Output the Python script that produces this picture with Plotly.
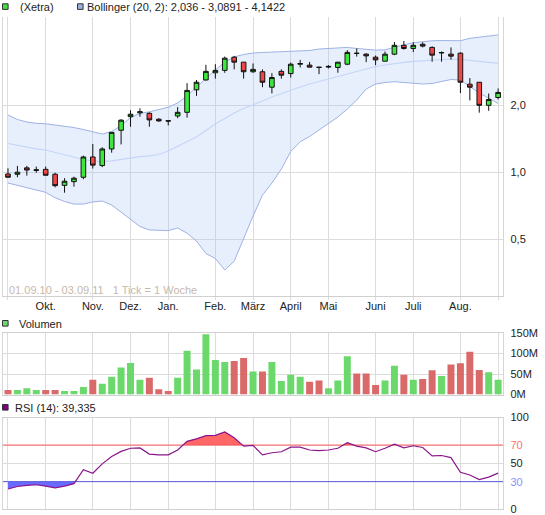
import pandas as pd
import plotly.graph_objects as go

W, H = 545, 515

# ---------------- data (weekly, Xetra) ----------------
week_start = "2010-08-30"
n_weeks = 53
dates = list(pd.date_range(week_start, periods=n_weeks, freq="7D"))

open_ = [0.983, 0.980, 1.047, 1.020, 1.031, 0.980, 0.874, 0.908, 0.950, 1.172,
         1.072, 1.273, 1.545, 1.778, 1.850, 1.841, 1.732, 1.706, 1.791, 1.860,
         2.347, 2.600, 2.800, 2.871, 3.290, 3.125, 2.830, 2.830, 2.412, 2.841,
         2.777, 3.060, 3.030, 2.968, 2.970, 2.958, 3.060, 3.430, 3.395, 3.290,
         3.157, 3.395, 3.720, 3.600, 3.760, 3.640, 3.440, 3.395, 3.430, 2.488,
         2.539, 2.000, 2.168]
high = [1.042, 1.069, 1.069, 1.061, 1.061, 0.996, 0.941, 0.956, 1.188, 1.340,
        1.296, 1.512, 1.732, 1.899, 1.939, 1.860, 1.750, 1.708, 1.963, 2.514,
        2.600, 3.040, 3.060, 3.311, 3.335, 3.125, 3.084, 2.900, 2.789, 2.900,
        3.112, 3.200, 3.134, 2.968, 3.030, 3.125, 3.540, 3.600, 3.430, 3.346,
        3.490, 3.850, 3.890, 3.840, 3.840, 3.680, 3.490, 3.640, 3.457, 2.650,
        2.539, 2.260, 2.380]
low = [0.950, 0.950, 0.966, 0.996, 0.970, 0.856, 0.810, 0.862, 0.931, 1.040,
       1.055, 1.225, 1.334, 1.602, 1.778, 1.602, 1.685, 1.625, 1.750, 1.760,
       2.204, 2.581, 2.636, 2.800, 2.900, 2.636, 2.800, 2.412, 2.261, 2.636,
       2.665, 2.958, 2.958, 2.760, 2.930, 2.800, 3.030, 3.311, 3.125, 3.030,
       3.157, 3.360, 3.560, 3.470, 3.640, 3.140, 3.140, 3.210, 2.270, 2.103,
       1.853, 1.890, 2.125]
close = [0.950, 1.001, 1.024, 1.026, 0.970, 0.871, 0.912, 0.941, 1.172, 1.077,
         1.273, 1.512, 1.715, 1.823, 1.870, 1.720, 1.702, 1.700, 1.860, 2.333,
         2.539, 2.841, 2.871, 3.257, 3.125, 2.830, 2.900, 2.539, 2.665, 2.731,
         3.060, 3.080, 2.968, 2.960, 2.990, 3.125, 3.457, 3.420, 3.335, 3.200,
         3.395, 3.720, 3.600, 3.720, 3.690, 3.360, 3.450, 3.325, 2.539, 2.412,
         2.000, 2.125, 2.285]

boll_upper = [1.809, 1.727, 1.683, 1.660, 1.652, 1.634, 1.614, 1.589, 1.557, 1.525,
              1.486, 1.525, 1.623, 1.760, 1.840, 1.870, 1.910, 1.960, 2.050, 2.203,
              2.416, 2.650, 2.886, 3.126, 3.300, 3.383, 3.436, 3.454, 3.464, 3.479,
              3.489, 3.507, 3.526, 3.580, 3.600, 3.620, 3.640, 3.600, 3.560, 3.540,
              3.550, 3.650, 3.740, 3.820, 3.870, 3.900, 3.910, 3.900, 3.900, 4.000,
              4.050, 4.100, 4.142]
boll_middle = [1.347, 1.322, 1.299, 1.275, 1.260, 1.227, 1.202, 1.172, 1.142, 1.124,
               1.116, 1.126, 1.144, 1.159, 1.175, 1.186, 1.202, 1.247, 1.306, 1.368,
               1.441, 1.541, 1.648, 1.745, 1.847, 1.935, 2.006, 2.091, 2.179, 2.260,
               2.343, 2.417, 2.493, 2.559, 2.625, 2.708, 2.779, 2.852, 2.927, 2.988,
               3.035, 3.082, 3.121, 3.153, 3.179, 3.196, 3.212, 3.219, 3.219, 3.186,
               3.146, 3.114, 3.089]
boll_lower = [0.895, 0.874, 0.859, 0.837, 0.813, 0.769, 0.739, 0.720, 0.720, 0.736,
              0.743, 0.713, 0.663, 0.620, 0.571, 0.551, 0.547, 0.547, 0.562, 0.533,
              0.491, 0.432, 0.410, 0.364, 0.399, 0.507, 0.636, 0.790, 0.895, 1.034,
              1.240, 1.372, 1.448, 1.549, 1.657, 1.772, 1.925, 2.113, 2.367, 2.493,
              2.532, 2.553, 2.532, 2.511, 2.493, 2.506, 2.559, 2.612, 2.598, 2.429,
              2.271, 2.157, 2.036]

volume_m = [11, 11, 15, 11, 11, 11, 8.5, 8.5, 18, 36,
            26, 43, 66, 77, 36, 41, 13, 8.5, 41, 107,
            61, 147, 84, 79, 82, 89, 56, 56, 79, 33,
            48, 43, 31, 34, 15, 34, 93, 51, 51, 23,
            34, 70, 48, 36, 38, 59, 45, 73, 76, 104,
            60, 54, 36]

rsi = [22, 24.7, 25.9, 26.6, 25.1, 23.2, 25.1, 27.8, 43, 39.2,
       49.4, 57.4, 63.1, 66.5, 66.9, 60.1, 59.3, 59.3, 64.6, 74.1,
       76.8, 80.2, 80.6, 84.4, 77.9, 68.8, 69.6, 59.3, 61.6, 62.7,
       67.7, 67.7, 64.6, 63.9, 64.6, 66.5, 72.6, 68.8, 66.9, 62.7,
       66.5, 71.0, 66.9, 69.2, 67.3, 58.2, 58.6, 56.3, 40.3, 37.3,
       32.3, 35, 39.3]

month_tick_dates = ["2010-09-27", "2010-11-01", "2010-11-29", "2010-12-27",
                    "2011-01-31", "2011-02-28", "2011-03-28", "2011-04-25",
                    "2011-05-30", "2011-06-27", "2011-08-01"]
month_labels = ["Okt.", "Nov.", "Dez.", "Jan.", "Feb.", "März", "April",
                "Mai", "Juni", "Juli", "Aug."]

price_ticks = [0.5, 1.0, 2.0]
price_tick_labels = ["0,5", "1,0", "2,0"]
vol_ticks = [0, 50e6, 100e6, 150e6]
vol_tick_labels = ["0M", "50M", "100M", "150M"]
rsi_ticks = [0, 30, 50, 70, 100]
rsi_tick_labels = ["0", '<span style="color:#8C8CFF">30</span>', "50",
                   '<span style="color:#FF7070">70</span>', "100"]

legend_main = "(Xetra)"
legend_boll = "Bollinger (20, 2): 2,036 - 3,0891 - 4,1422"
legend_vol = "Volumen"
legend_rsi = "RSI (14): 39,335"
period_note = "01.09.10 - 03.09.11\u00a0\u00a0\u00a01 Tick = 1 Woche"

# ---------------- styling ----------------
FONT = "Liberation Sans, Arial, sans-serif"
GRID = "#DCDCDC"
TXT = "#222222"
GREEN = "#3DE83D"
RED = "#F04646"
VGREEN = "#6BD86B"
VRED = "#DA6A6A"


def py(y):
    return 1 - y / H


def pxx(x):
    return x / W


x_dom = [pxx(2.8), pxx(503.3)]
x_range = [dates[0] - pd.Timedelta(days=3.85), dates[-1] + pd.Timedelta(days=3.85)]
grid_vals = [dates[0]] + [pd.Timestamp(d) for d in month_tick_dates] + [dates[-1]]
grid_text = [""] + month_labels + [""]
price_range = [-0.5557, 0.7000]
main_dom = [py(296), py(16.5)]

fig = go.Figure()

# Bollinger band (base price axis)
fig.add_trace(go.Scatter(x=dates, y=boll_upper, mode="lines",
                         line=dict(color="#9DB2E4", width=1), hoverinfo="skip"))
fig.add_trace(go.Scatter(x=dates, y=boll_lower, mode="lines", fill="tonexty",
                         fillcolor="rgba(170,195,245,0.27)",
                         line=dict(color="#9DB2E4", width=1), hoverinfo="skip"))
fig.add_trace(go.Scatter(x=dates, y=boll_middle, mode="lines",
                         line=dict(color="#C3D6F7", width=1.2), hoverinfo="skip"))

# Candles (overlay axis so they are drawn above the band)
fig.add_trace(go.Candlestick(
    x=dates, open=open_, high=high, low=low, close=close,
    increasing=dict(fillcolor=GREEN, line=dict(color="#111111", width=1)),
    decreasing=dict(fillcolor=RED, line=dict(color="#111111", width=1)),
    whiskerwidth=0, xaxis="x", yaxis="y4", hoverinfo="skip"))

# Volume (colour by close vs previous close)
vol_colors = []
for i in range(n_weeks):
    ref = open_[0] if i == 0 else close[i - 1]
    vol_colors.append(VGREEN if close[i] >= ref else VRED)
fig.add_trace(go.Bar(x=dates, y=[v * 1e6 for v in volume_m], marker_color=vol_colors,
                     marker_line_width=0, xaxis="x2", yaxis="y2", hoverinfo="skip"))


# RSI fills
def clip_fill(xs, vals, level, above):
    fx, fy = [], []
    for k, v in enumerate(vals):
        if k > 0:
            p = vals[k - 1]
            if (p - level) * (v - level) < 0:
                t = (level - p) / (v - p)
                fx.append(xs[k - 1] + (xs[k] - xs[k - 1]) * t)
                fy.append(level)
        fx.append(xs[k])
        fy.append(max(v, level) if above else min(v, level))
    return fx, fy


for level, above, col in [(70, True, "#FF6666"), (30, False, "#6A6AFF")]:
    fx, fy = clip_fill(dates, rsi, level, above)
    fig.add_trace(go.Scatter(x=fx, y=[level] * len(fx), mode="lines",
                             line=dict(width=0, color=col), xaxis="x3", yaxis="y3",
                             hoverinfo="skip"))
    fig.add_trace(go.Scatter(x=fx, y=fy, mode="lines", fill="tonexty", fillcolor=col,
                             line=dict(width=0, color=col), xaxis="x3", yaxis="y3",
                             hoverinfo="skip"))

fig.add_trace(go.Scatter(x=x_range, y=[70, 70], mode="lines",
                         line=dict(color="#FF5C5C", width=1), xaxis="x3", yaxis="y3",
                         hoverinfo="skip"))
fig.add_trace(go.Scatter(x=x_range, y=[30, 30], mode="lines",
                         line=dict(color="#5A5AE0", width=1), xaxis="x3", yaxis="y3",
                         hoverinfo="skip"))
fig.add_trace(go.Scatter(x=dates, y=rsi, mode="lines",
                         line=dict(color="#8B168B", width=1.2), xaxis="x3", yaxis="y3",
                         hoverinfo="skip"))

xcommon = dict(domain=x_dom, type="date", range=x_range, tickmode="array",
               tickvals=grid_vals, showgrid=True, gridcolor=GRID, gridwidth=1,
               showline=True, linecolor="#D0D0D0", linewidth=1, zeroline=False,
               fixedrange=True)
ycommon = dict(side="right", showgrid=True, gridcolor=GRID, gridwidth=1,
               showline=True, mirror=True, linecolor="#D6D6D6", linewidth=1,
               zeroline=False, ticks="", tickfont=dict(size=11, color=TXT, family=FONT),
               ticklabelstandoff=4, tickmode="array", fixedrange=True)

fig.update_layout(
    width=W, height=H,
    margin=dict(l=0, r=0, t=0, b=0, autoexpand=False),
    paper_bgcolor="white", plot_bgcolor="white",
    showlegend=False, bargap=0.26, hovermode=False,
    font=dict(family=FONT, size=11, color=TXT),
    xaxis=dict(xcommon, anchor="y", ticktext=grid_text, ticks="outside", ticklen=3,
               tickcolor=GRID, tickfont=dict(size=11, color=TXT, family=FONT),
               ticklabelstandoff=-3, rangeslider=dict(visible=False)),
    yaxis=dict(ycommon, domain=main_dom, type="log",
               range=price_range, tickvals=price_ticks, ticktext=price_tick_labels,
               anchor="x"),
    yaxis4=dict(overlaying="y", anchor="x", side="right", type="log",
                range=price_range, showgrid=False, showline=False, zeroline=False,
                showticklabels=False, ticks="", fixedrange=True),
    xaxis2=dict(xcommon, anchor="y2", showticklabels=False, mirror=True, ticks=""),
    yaxis2=dict(ycommon, domain=[py(394.5), py(333)], range=[0, 150e6],
                tickvals=vol_ticks, ticktext=vol_tick_labels, anchor="x2"),
    xaxis3=dict(xcommon, anchor="y3", showticklabels=False, mirror=True, ticks=""),
    yaxis3=dict(ycommon, domain=[py(509.1), py(417.6)], range=[0, 100],
                tickvals=rsi_ticks, ticktext=rsi_tick_labels, anchor="x3"),
)

# legend squares and texts
shapes = []
annots = []


def square(x0, y0, size, fill):
    shapes.append(dict(type="rect", xref="paper", yref="paper",
                       x0=pxx(x0), x1=pxx(x0 + size), y0=py(y0 + size), y1=py(y0),
                       fillcolor=fill, line=dict(color="#333333", width=1)))


def label(x, y, text, color=TXT):
    annots.append(dict(x=pxx(x), y=py(y), xref="paper", yref="paper", text=text,
                       showarrow=False, xanchor="left", yanchor="middle",
                       font=dict(size=11, color=color, family=FONT)))


square(2.5, 3.8, 5.6, "#44DD44")
label(17.5, 7, legend_main)
square(77.5, 3.8, 5.6, "#9CB0E0")
label(84.5, 7, legend_boll)
square(2.5, 320.5, 5.6, "#6CD96C")
label(17, 324, legend_vol)
square(2.5, 404.5, 5.6, "#800080")
label(12.5, 408, legend_rsi)
label(6.5, 290, period_note, color="#C6B9AC")

fig.update_layout(shapes=shapes, annotations=annots)

fig.write_html(
    "out.html",
    config={"displayModeBar": False, "staticPlot": True},
    post_script="document.body.style.margin='0';document.body.style.padding='0';"
                "document.documentElement.style.overflow='hidden';",
)
